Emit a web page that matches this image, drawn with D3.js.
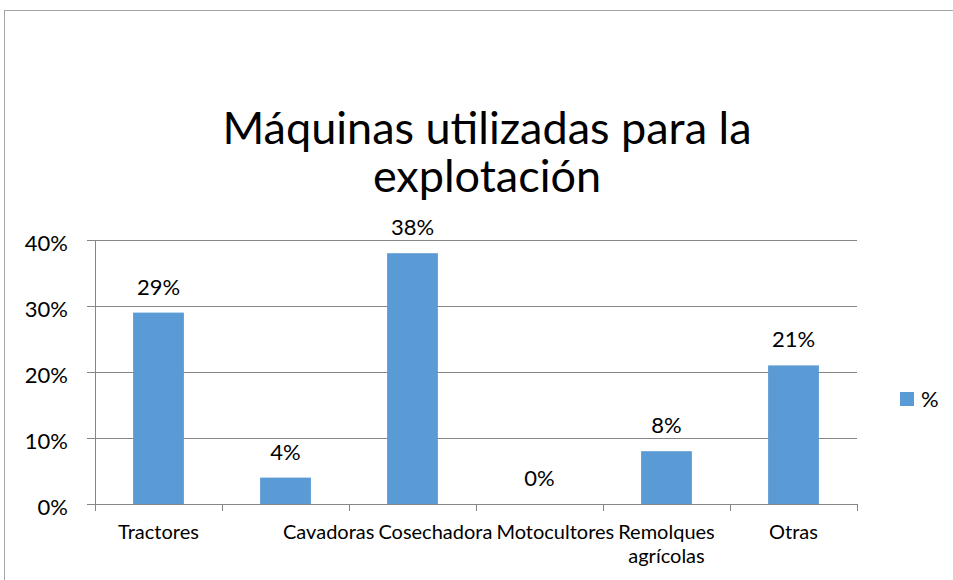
<!DOCTYPE html>
<meta charset="utf-8">
<style>
body { margin: 0; background: #fff; font-family: Lato, "Open Sans", sans-serif; }
svg text { fill: #000; }
</style>
<body>
<div id="chart"></div>
<script src="https://d3js.org/d3.v7.min.js"></script>
<script>

// data
const categories = ["Tractores", "Cavadoras", "Cosechadora", "Motocultores", "Remolques agrícolas", "Otras"];
const values = [0.29, 0.04, 0.38, 0.00, 0.08, 0.21];
const yTicks = [0, 0.1, 0.2, 0.3, 0.4];
const seriesName = "%";
const titleLines = ["Máquinas utilizadas para la", "explotación"];

const width = 953, height = 580;
const margin = {top: 240, right: 96, bottom: 76, left: 95};
const barColor = "#5b9bd5";
const gridColor = "#868686";

const svg = d3.select("#chart")
  .append("svg")
  .attr("width", width)
  .attr("height", height);

// chart frame (only left and top edges are visible in the reference)
svg.append("rect")
  .attr("x", 4.5).attr("y", 10.5)
  .attr("width", width + 20).attr("height", height + 20)
  .attr("fill", "none")
  .attr("stroke", "#a6a6a6");

const x = d3.scaleBand()
  .domain(categories)
  .range([margin.left, width - margin.right])
  .paddingInner(0.6)
  .paddingOuter(0.3);

const y = d3.scaleLinear()
  .domain([0, 0.4])
  .range([height - margin.bottom, margin.top]);

// gridlines + y axis
svg.append("g")
  .attr("transform", `translate(${margin.left},0)`)
  .call(d3.axisLeft(y).tickValues(yTicks).tickFormat(d3.format(".0%"))
    .tickSize(-(width - margin.right - margin.left)).tickPadding(0))
  .call(g => g.selectAll(".tick line")
    .attr("x1", -8)
    .attr("stroke", gridColor))
  .call(g => g.select(".domain").attr("stroke", gridColor).attr("d", `M0.5,${y(0)}V${y(0.4)}`))
  .call(g => g.selectAll(".tick text")
    .attr("x", -27)
    .attr("dy", "0.68em")
    .attr("y", -4)
    .attr("font-family", "Lato")
    .attr("font-size", 22)
    .attr("fill", "#000"));

// x axis: ticks at band boundaries
const step = x.step();
const boundaries = d3.range(categories.length + 1).map(i => margin.left + i * step);
const xg = svg.append("g");
xg.append("line")
  .attr("x1", margin.left).attr("x2", width - margin.right)
  .attr("y1", y(0) + 0.5).attr("y2", y(0) + 0.5)
  .attr("stroke", gridColor);
xg.selectAll("line.tick")
  .data(boundaries)
  .join("line")
  .attr("class", "tick")
  .attr("x1", d => Math.round(d) + 0.5).attr("x2", d => Math.round(d) + 0.5)
  .attr("y1", y(0)).attr("y2", y(0) + 7)
  .attr("stroke", gridColor);

// bars
svg.append("g")
  .selectAll("rect")
  .data(values)
  .join("rect")
  .attr("x", (d, i) => x(categories[i]))
  .attr("y", d => y(d))
  .attr("width", x.bandwidth())
  .attr("height", d => y(0) - y(d))
  .attr("fill", barColor);

// data labels
svg.append("g")
  .selectAll("text")
  .data(values)
  .join("text")
  .attr("x", (d, i) => x(categories[i]) + x.bandwidth() / 2)
  .attr("y", d => y(d) - 18)
  .attr("text-anchor", "middle")
  .attr("font-size", 22)
  .text(d => d3.format(".0%")(d));

// category labels; Excel packs the crowded middle ones side by side
const labelY = y(0) + 35;
const labels = svg.append("g")
  .attr("font-size", 20);
const labelNodes = categories.map((c, i) => {
  const t = labels.append("text")
    .attr("x", x(c) + x.bandwidth() / 2)
    .attr("y", labelY)
    .attr("text-anchor", "middle");
  const words = c.split(" ");
  if (words.length > 1) {
    words.forEach((w, k) => t.append("tspan")
      .attr("x", x(c) + x.bandwidth() / 2)
      .attr("dy", k === 0 ? 0 : 24)
      .text(w));
  } else {
    t.text(c);
  }
  return t;
});
// chain Motocultores, Cosechadora, Cavadoras leftwards from Remolques
const gap = 4;
let leftEdge = labelNodes[4].select("tspan").node().getBBox().x;
for (let i = 3; i >= 1; i--) {
  labelNodes[i].attr("text-anchor", "end").attr("x", leftEdge - gap);
  leftEdge = labelNodes[i].node().getBBox().x;
}

// title
svg.append("text")
  .attr("x", 487)
  .attr("text-anchor", "middle")
  .attr("font-size", 45)
  .selectAll("tspan")
  .data(titleLines)
  .join("tspan")
  .attr("x", 487)
  .attr("y", (d, i) => 144 + i * 48)
  .text(d => d);

// legend
const legend = svg.append("g")
  .attr("transform", "translate(900,392)");
legend.append("rect")
  .attr("width", 14).attr("height", 14)
  .attr("fill", barColor);
legend.append("text")
  .attr("x", 21).attr("y", 15)
  .attr("font-size", 22)
  .text(seriesName);

</script>
